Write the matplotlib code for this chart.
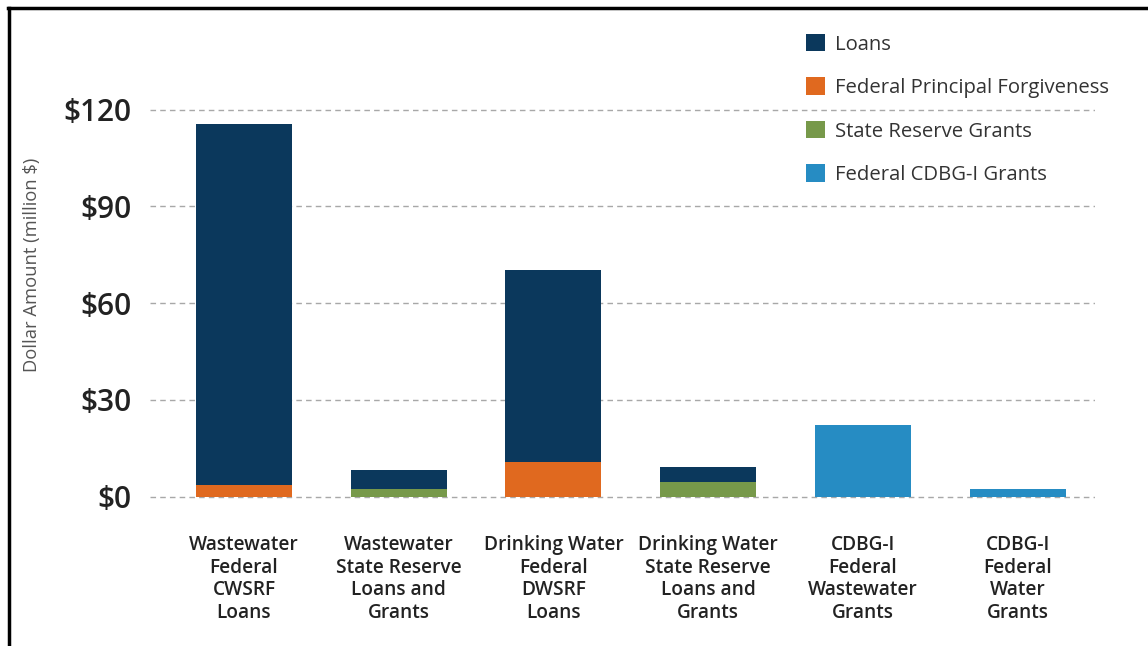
import numpy as np
import matplotlib
matplotlib.use("Agg")
import matplotlib.pyplot as plt
from matplotlib.lines import Line2D
from matplotlib.patches import Patch

plt.rcParams['font.family'] = ['Open Sans', 'DejaVu Sans']

# Funding sources (million $)
categories = [
    "Wastewater\nFederal\nCWSRF\nLoans",
    "Wastewater\nState Reserve\nLoans and\nGrants",
    "Drinking Water\nFederal\nDWSRF\nLoans",
    "Drinking Water\nState Reserve\nLoans and\nGrants",
    "CDBG-I\nFederal\nWastewater\nGrants",
    "CDBG-I\nFederal\nWater\nGrants",
]
loans = [111.8, 5.9, 59.6, 4.7, 0.0, 0.0]
principal_forgiveness = [3.7, 0.0, 10.6, 0.0, 0.0, 0.0]
state_reserve_grants = [0.0, 2.2, 0.0, 4.4, 0.0, 0.0]
cdbg_grants = [0.0, 0.0, 0.0, 0.0, 22.3, 2.3]

yticks = [0, 30, 60, 90, 120]
ytick_labels = ["$0", "$30", "$60", "$90", "$120"]
series_names = ["Loans", "Federal Principal Forgiveness",
                "State Reserve Grants", "Federal CDBG-I Grants"]
colors = ["#0b385c", "#e0691f", "#77994a", "#268cc3"]

fig = plt.figure(figsize=(11.48, 6.46), dpi=100, facecolor="white")
ax = fig.add_axes([0.1307, 0.2164, 0.8232, 0.6635])

x = np.arange(len(categories))
w = 0.62
pf = np.array(principal_forgiveness)
sr = np.array(state_reserve_grants)
ax.bar(x, pf, w, color=colors[1], zorder=3)
ax.bar(x, sr, w, bottom=pf, color=colors[2], zorder=3)
ax.bar(x, loans, w, bottom=pf + sr, color=colors[0], zorder=3)
ax.bar(x, cdbg_grants, w, color=colors[3], zorder=3)

ax.set_xlim(-0.607, 5.50)
ax.set_ylim(-3, 130)
ax.set_yticks(yticks)
ax.set_yticklabels(ytick_labels, fontsize=21.5, color="#222222", fontweight="semibold")
ax.set_xticks(x)
ax.set_xticklabels(categories, fontsize=13.8, color="#222222",
                   fontweight="semibold", linespacing=1.16, va="top")
ax.tick_params(axis="y", length=0, pad=13)
ax.tick_params(axis="x", length=0, pad=21)
ax.yaxis.grid(True, color="#a8a8a8", linestyle=(0, (4, 3)), linewidth=1.0, zorder=0)
for s in ax.spines.values():
    s.set_visible(False)

fig.text(32 / 1148, 1 - 265 / 646, "Dollar Amount (million $)", rotation=90,
         ha="center", va="center", fontsize=13.2, color="#555555")

handles = [Patch(facecolor=c, edgecolor="none") for c in colors]
fig.legend(handles, series_names, loc="upper left",
           bbox_to_anchor=(806 / 1148, 1 - 34 / 646), frameon=False,
           fontsize=14.6, labelcolor="#333333", handlelength=0.95, handleheight=0.95,
           handletextpad=0.5, labelspacing=1.12, borderpad=0, borderaxespad=0)

# frame edges
fig.add_artist(Line2D([8 / 1148, 1], [1 - 7.5 / 646] * 2, color="black", lw=2.5,
                      transform=fig.transFigure))
fig.add_artist(Line2D([8.5 / 1148] * 2, [0, 1 - 7.5 / 646], color="black", lw=2.5,
                      transform=fig.transFigure))

fig.savefig("out.png", dpi=100, facecolor="white")
